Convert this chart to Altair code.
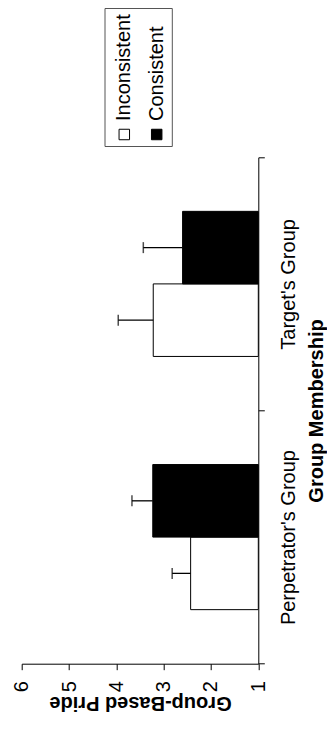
import altair as alt
import pandas as pd

# ---- data ----
groups = ["Perpetrator's Group", "Target's Group"]
conditions = ["Inconsistent", "Consistent"]
means_inconsistent = [2.43, 3.22]
means_consistent = [3.23, 2.60]
se_inconsistent = [0.39, 0.74]
se_consistent = [0.44, 0.83]
value_ticks = [1, 2, 3, 4, 5, 6]
x_title = "Group Membership"
y_title = "Group-Based Pride"

rows = []
for i, g in enumerate(groups):
    rows.append({"group": g, "condition": conditions[0],
                 "mean": means_inconsistent[i], "se": se_inconsistent[i]})
    rows.append({"group": g, "condition": conditions[1],
                 "mean": means_consistent[i], "se": se_consistent[i]})
df = pd.DataFrame(rows)
df["upper"] = df["mean"] + df["se"]

# ---- layout ----
FONT = "Liberation Sans"
W, H = 236.6, 506.4
PL, PT = 13.7, 149.3
TOTAL_W, TOTAL_H = 319, 706
PR = TOTAL_W - PL - W
PB = TOTAL_H - PT - H
OX, OY = 8 + PL, 8 + PT  # page position of the plot origin


def px(v):
    return v - OX


def py(v):
    return v - OY


y_enc = alt.Y(
    "group:N",
    sort=groups[::-1],
    scale=alt.Scale(paddingInner=0, paddingOuter=0),
    axis=alt.Axis(
        orient="right", title=x_title,
        labelAngle=270, labelAlign="center", labelBaseline="top",
        labelPadding=14, tickSize=6, tickBand="extent",
        titleAngle=270, titleBaseline="top", titleAlign="center",
        titleX=48.5, titleY=H / 2, titleFontWeight="bold",
        labelOverlap=False,
    ),
)
yoff = alt.YOffset("condition:N", sort=conditions[::-1],
                   scale=alt.Scale(paddingInner=0, paddingOuter=0.745))

x_scale = alt.Scale(domain=[1, 6], reverse=True, nice=False, zero=False)
x_axis = alt.Axis(
    values=value_ticks, orient="bottom", title=y_title, format="d",
    labelAngle=270, labelAlign="right", labelBaseline="middle",
    labelPadding=11, tickSize=6, grid=False, labelFlush=False,
    labelOverlap=False,
    titleAngle=180, titleAlign="center", titleBaseline="alphabetic",
    titleX=W / 2, titleY=33, titleFontWeight="bold",
)

base = alt.Chart(df)

bars = base.mark_bar(stroke="black", strokeWidth=1).encode(
    x=alt.X("mean:Q", scale=x_scale, axis=x_axis),
    x2=alt.datum(1),
    y=y_enc,
    yOffset=yoff,
    fill=alt.Fill("condition:N", scale=alt.Scale(domain=conditions, range=["white", "black"]),
                  legend=None),
)

rules = base.mark_rule(color="black", strokeWidth=1.3).encode(
    x="mean:Q", x2="upper:Q", y=y_enc, yOffset=yoff,
)

caps = base.mark_tick(color="black", size=11, thickness=1.5).encode(
    x="upper:Q", y=y_enc, yOffset=yoff,
)

# ---- manual legend (rotated like the rest of the figure) ----
box = alt.Chart(pd.DataFrame({"k": [0]})).mark_rect(
    fillOpacity=0, stroke="#555555", strokeWidth=1
).encode(
    x=alt.value(px(105)), x2=alt.value(px(172.3)),
    y=alt.value(py(8.5)), y2=alt.value(py(146.5)),
)

legend_layers = [box]
sym_x = [124.3, 156.7]
txt_x = [124.2, 156.6]
fills = ["white", "black"]
for i, c in enumerate(conditions):
    ldf = pd.DataFrame({"label": [c]})
    legend_layers.append(
        alt.Chart(ldf).mark_point(shape="square", size=110, filled=True,
                                  fill=fills[i], stroke="black", strokeWidth=1,
                                  opacity=1).encode(
            x=alt.value(px(sym_x[i])), y=alt.value(py(134.5)))
    )
    legend_layers.append(
        alt.Chart(ldf).mark_text(angle=270, align="left", baseline="middle",
                                 font=FONT, fontSize=20, color="black").encode(
            x=alt.value(px(txt_x[i])), y=alt.value(py(121)), text="label:N")
    )

chart = alt.layer(bars, rules, caps, *legend_layers).properties(
    width=W, height=H,
    autosize=alt.AutoSizeParams(type="none"),
    padding={"left": PL, "top": PT, "right": PR, "bottom": PB},
).configure_view(stroke=None).configure_axis(
    domainColor="black", tickColor="black", labelColor="black", titleColor="black",
    labelFont=FONT, titleFont=FONT, labelFontSize=20, titleFontSize=20,
    domainWidth=1, tickWidth=1,
)

chart.save("out.html", embed_options={"renderer": "svg", "actions": False})
